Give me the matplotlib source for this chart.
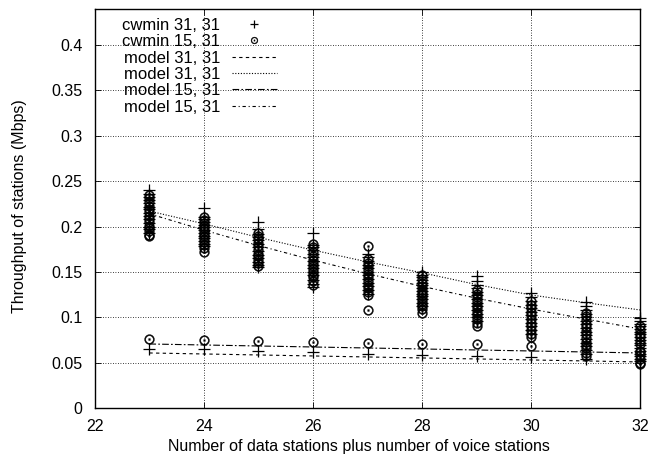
import matplotlib
matplotlib.use("Agg")
import matplotlib.pyplot as plt

plt.rcParams['font.family'] = ['Liberation Sans', 'DejaVu Sans']

# x positions: data stations + voice stations
stations = [23, 24, 25, 26, 27, 28, 29, 30, 31, 32]

# cwmin 31,31 - throughput of each data station (Mbps)
data_31 = [
    [0.240, 0.236, 0.232, 0.229, 0.226, 0.222, 0.219, 0.215, 0.212, 0.208, 0.204, 0.200, 0.197, 0.193],
    [0.220, 0.211, 0.208, 0.205, 0.202, 0.199, 0.196, 0.193, 0.190, 0.187, 0.184, 0.181, 0.178],
    [0.205, 0.197, 0.192, 0.188, 0.185, 0.181, 0.177, 0.173, 0.169, 0.165, 0.161, 0.158, 0.155],
    [0.193, 0.180, 0.177, 0.174, 0.170, 0.166, 0.162, 0.158, 0.154, 0.150, 0.146, 0.141, 0.137, 0.133],
    [0.170, 0.166, 0.162, 0.158, 0.154, 0.150, 0.146, 0.142, 0.138, 0.134, 0.130, 0.126],
    [0.150, 0.147, 0.144, 0.141, 0.138, 0.135, 0.132, 0.129, 0.126, 0.123, 0.120, 0.116, 0.112],
    [0.145, 0.140, 0.136, 0.132, 0.128, 0.124, 0.120, 0.116, 0.112, 0.108, 0.104, 0.100, 0.096],
    [0.127, 0.122, 0.118, 0.114, 0.110, 0.106, 0.102, 0.098, 0.094, 0.090, 0.086, 0.082],
    [0.117, 0.112, 0.108, 0.104, 0.100, 0.096, 0.092, 0.088, 0.084, 0.080, 0.076, 0.072, 0.068, 0.064, 0.060],
    [0.099, 0.096, 0.093, 0.090, 0.087, 0.084, 0.081, 0.078, 0.075, 0.072, 0.069, 0.066, 0.063, 0.060, 0.057, 0.054],
]
# cwmin 31,31 - throughput of a voice station
voice_31 = [0.065, 0.065, 0.063, 0.062, 0.060, 0.058, 0.057, 0.056, 0.054, 0.052]

# cwmin 15,31 - throughput of each data station (Mbps)
data_15 = [
    [0.235, 0.231, 0.227, 0.223, 0.219, 0.216, 0.212, 0.208, 0.205, 0.201, 0.198, 0.195, 0.191, 0.190],
    [0.210, 0.207, 0.204, 0.201, 0.198, 0.195, 0.192, 0.189, 0.186, 0.183, 0.180, 0.176, 0.172],
    [0.193, 0.190, 0.186, 0.182, 0.178, 0.174, 0.170, 0.167, 0.163, 0.160, 0.157],
    [0.181, 0.177, 0.172, 0.168, 0.163, 0.160, 0.156, 0.153, 0.150, 0.147, 0.144, 0.140, 0.136],
    [0.178, 0.164, 0.160, 0.156, 0.152, 0.148, 0.144, 0.140, 0.136, 0.132, 0.128, 0.124, 0.108],
    [0.146, 0.142, 0.138, 0.134, 0.130, 0.127, 0.124, 0.121, 0.118, 0.115, 0.112, 0.109, 0.105],
    [0.130, 0.126, 0.122, 0.118, 0.114, 0.110, 0.106, 0.102, 0.098, 0.094, 0.090],
    [0.118, 0.114, 0.110, 0.106, 0.102, 0.098, 0.094, 0.090, 0.086, 0.082, 0.078],
    [0.105, 0.101, 0.097, 0.093, 0.089, 0.085, 0.081, 0.077, 0.073, 0.069, 0.061, 0.057],
    [0.090, 0.086, 0.082, 0.078, 0.074, 0.070, 0.062, 0.058, 0.054, 0.050, 0.048],
]
voice_15 = [0.076, 0.075, 0.074, 0.073, 0.072, 0.071, 0.070, 0.068, 0.066, 0.063]

# analytical model curves
model_31_voice = [0.0606, 0.0595, 0.0584, 0.0573, 0.0562, 0.0551, 0.0540, 0.0529, 0.0518, 0.0507]
model_31_data = [0.217, 0.203, 0.188, 0.174, 0.161, 0.149, 0.136, 0.1245, 0.116, 0.108]
model_15_voice = [0.0705, 0.0694, 0.0683, 0.0672, 0.0661, 0.0650, 0.0639, 0.0628, 0.0617, 0.0606]
model_15_data = [0.214, 0.196, 0.179, 0.163, 0.148, 0.134, 0.121, 0.109, 0.098, 0.087]

fig = plt.figure(figsize=(6.54, 4.62), dpi=100)
ax = fig.add_axes([0.145, 0.117, 0.834, 0.864])

# scatter points
px, py = [], []
for x, vals, v in zip(stations, data_31, voice_31):
    px += [x] * (len(vals) + 1)
    py += vals + [v]
ax.plot(px, py, linestyle='none', marker='+', color='black', markersize=8,
        markeredgewidth=0.9, label='cwmin 31, 31', clip_on=False)

cx, cy = [], []
for x, vals, v in zip(stations, data_15, voice_15):
    cx += [x] * (len(vals) + 1)
    cy += vals + [v]
ax.plot(cx, cy, linestyle='none', marker=r'$\odot$', color='black', markersize=7,
        markeredgewidth=0.3, label='cwmin 15, 31', clip_on=False)

ax.plot(stations, model_31_voice, color='black', lw=0.8, linestyle=(0, (3, 3)), label='model 31, 31')
ax.plot(stations, model_31_data, color='black', lw=0.8, linestyle=(0, (1, 1.5)), label='model 31, 31')
ax.plot(stations, model_15_voice, color='black', lw=0.8, linestyle=(0, (6, 2, 1.5, 2)), label='model 15, 31')
ax.plot(stations, model_15_data, color='black', lw=0.8, linestyle=(0, (3, 2.5, 1, 2.5)), label='model 15, 31')

ax.set_xlim(22, 32)
ax.set_ylim(0, 0.44)
ax.set_xticks([22, 24, 26, 28, 30, 32])
yt = [0, 0.05, 0.1, 0.15, 0.2, 0.25, 0.3, 0.35, 0.4]
ax.set_yticks(yt)
ax.set_yticklabels(['0', '0.05', '0.1', '0.15', '0.2', '0.25', '0.3', '0.35', '0.4'])
ax.tick_params(direction='in', top=True, right=True, labelsize=11.5, length=4, width=0.6)
ax.tick_params(axis='x', pad=8)
ax.tick_params(axis='y', pad=9)
ax.grid(True, color='black', linestyle=(0, (1, 2)), linewidth=0.6)
for s in ax.spines.values():
    s.set_linewidth(1.0)

ax.set_xlabel('Number of data stations plus number of voice stations', fontsize=11.5)
ax.xaxis.set_label_coords(0.484, -0.078)
ax.set_ylabel('Throughput of stations (Mbps)', fontsize=11.5)
ax.yaxis.set_label_coords(-0.125, 0.506)

leg = ax.legend(loc='upper left', bbox_to_anchor=(0.05, 0.977), frameon=False, markerfirst=False,
                fontsize=12, labelspacing=0.08, handlelength=2.7, borderaxespad=0, borderpad=0,
                handletextpad=0.7, markerscale=0.7)
for t in leg.get_texts():
    t.set_ha('right')
leg._legend_box.align = 'right'

fig.savefig('out.png', dpi=100)
